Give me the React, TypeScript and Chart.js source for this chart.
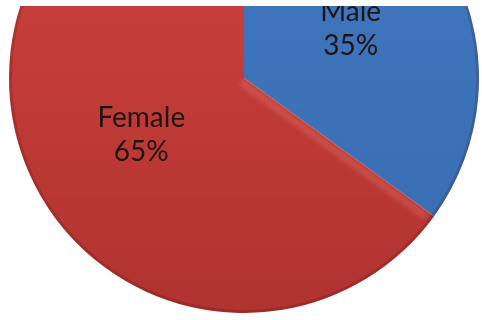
import React, { useEffect, useRef } from "react";
import { Chart, registerables } from "chart.js";

Chart.register(...registerables);

const categories = ["Male", "Female"];
const values = [35, 65];
const percentLabels = ["35%", "65%"];
const topColors = ["#4279c2", "#d24441"];
const bottomColors = ["#386cb0", "#b0332f"];

const labelPlugin = {
  id: "sliceLabels",
  afterDatasetsDraw(chart: any) {
    const { ctx } = chart;
    const meta = chart.getDatasetMeta(0);
    const first = meta.data[0];
    if (!first) return;
    const cx = first.x;
    const cy = first.y;
    const r = first.outerRadius;
    ctx.save();
    // soft rim shadow
    ctx.beginPath();
    ctx.arc(cx, cy, r - 1.5, 0, Math.PI * 2);
    ctx.strokeStyle = "rgba(60,0,0,0.16)";
    ctx.lineWidth = 3;
    ctx.stroke();
    // soft bevel highlight along the separator on the Female side
    const arc1 = meta.data[1];
    if (arc1) {
      const a = arc1.startAngle;
      const nx = -Math.sin(a);
      const ny = Math.cos(a);
      ctx.filter = "blur(2px)";
      ctx.beginPath();
      ctx.moveTo(cx + nx * 5, cy + ny * 5);
      ctx.lineTo(cx + Math.cos(a) * (r - 6) + nx * 5, cy + Math.sin(a) * (r - 6) + ny * 5);
      ctx.strokeStyle = "rgba(255,160,150,0.2)";
      ctx.lineWidth = 8;
      ctx.stroke();
      ctx.filter = "none";
    }
    ctx.font = "28px Lato, 'Open Sans', sans-serif";
    ctx.fillStyle = "#1e1414";
    ctx.textAlign = "center";
    ctx.textBaseline = "middle";
    meta.data.forEach((arc: any, i: number) => {
      const p = arc.tooltipPosition();
      const y = p.y + 4;
      ctx.fillText(categories[i], p.x + 2, y - 17);
      ctx.fillText(percentLabels[i], p.x + 2, y + 17);
    });
    ctx.restore();
  },
};

export default function App() {
  const ref = useRef<HTMLCanvasElement>(null);
  useEffect(() => {
    if (!ref.current) return;
    const chart = new Chart(ref.current, {
      type: "pie",
      data: {
        labels: categories,
        datasets: [
          {
            data: values,
            backgroundColor: (c: any) => {
              const ch = c.chart;
              const area = ch.chartArea;
              const i = c.dataIndex;
              if (!area) return topColors[i];
              const g = ch.ctx.createLinearGradient(0, area.top, 0, area.bottom);
              g.addColorStop(0, topColors[i]);
              g.addColorStop(1, bottomColors[i]);
              return g;
            },
            borderWidth: 0,
          },
        ],
      },
      options: {
        responsive: false,
        animation: false,
        devicePixelRatio: 1,
        radius: 235,
        layout: { padding: 0 },
        plugins: {
          legend: { display: false },
          tooltip: { enabled: false },
          title: { display: false },
        },
      } as any,
      plugins: [labelPlugin],
    });
    return () => chart.destroy();
  }, []);
  return (
    <div
      style={{
        position: "fixed",
        top: 6,
        left: 0,
        width: 482,
        height: 314,
        overflow: "hidden",
        background: "#fff",
      }}
    >
      <canvas
        ref={ref}
        width={488}
        height={470}
        style={{ position: "absolute", left: 0, top: -163, width: 488, height: 470 }}
      />
    </div>
  );
}
